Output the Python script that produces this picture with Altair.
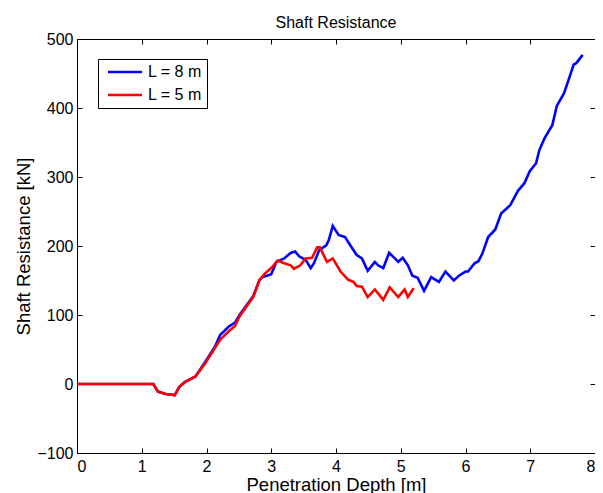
import altair as alt
import pandas as pd

series_names = ["L = 8 m", "L = 5 m"]
colors = ["#0000FF", "#FF0000"]

# L = 8 m
depth_8 = [0, 1.18, 1.25, 1.37, 1.51, 1.58, 1.67, 1.83, 1.98, 2.13, 2.21, 2.34, 2.44, 2.51,
           2.72, 2.82, 2.87, 3.0, 3.08, 3.20, 3.30, 3.37, 3.43, 3.53, 3.61, 3.66, 3.74, 3.85,
           3.89, 3.95, 4.04, 4.14, 4.22, 4.32, 4.40, 4.49, 4.60, 4.65, 4.73, 4.82, 4.91, 4.96,
           5.03, 5.11, 5.18, 5.26, 5.36, 5.47, 5.59, 5.69, 5.82, 5.90, 6.0, 6.04, 6.14, 6.20,
           6.26, 6.35, 6.46, 6.55, 6.69, 6.81, 6.91, 6.99, 7.09, 7.14, 7.22, 7.34, 7.41, 7.52,
           7.60, 7.67, 7.71, 7.81]
res_8 = [0, 0, -11, -14.5, -16, -4, 3, 11, 32, 54, 71, 83, 89, 100,
         127, 151, 155, 159, 177, 182, 190, 192, 185, 180, 168, 175, 194, 201,
         209, 229, 216, 213, 201, 187, 182, 164, 177, 172, 168, 190, 182, 177,
         183, 172, 157, 154, 135, 155, 148, 163, 150, 157, 163, 163, 175, 178,
         189, 213, 224, 247, 259, 280, 291, 308, 320, 339, 356, 375, 403, 421,
         443, 463, 465, 477]

# L = 5 m
depth_5 = [0, 1.18, 1.25, 1.37, 1.51, 1.58, 1.67, 1.83, 1.98, 2.13, 2.21, 2.34, 2.44, 2.51,
           2.72, 2.82, 2.90, 3.0, 3.10, 3.20, 3.30, 3.35, 3.45, 3.53, 3.63, 3.71, 3.75, 3.86,
           3.95, 4.07, 4.19, 4.27, 4.32, 4.40, 4.49, 4.60, 4.73, 4.83, 4.96, 5.06, 5.11, 5.20]
res_5 = [0, 0, -11, -14.5, -16, -4, 3, 11, 30, 52, 64, 76, 84, 98,
         126, 151, 160, 168, 179, 175, 172, 167, 172, 182, 183, 198, 198, 177,
         182, 163, 151, 148, 142, 141, 126, 137, 122, 140, 126, 137, 126, 139]

x_ticks = [0, 1, 2, 3, 4, 5, 6, 7, 8]
y_ticks = [-100, 0, 100, 200, 300, 400, 500]

df = pd.concat([
    pd.DataFrame({"depth": depth_8, "res": res_8, "series": series_names[0], "k": 0}),
    pd.DataFrame({"depth": depth_5, "res": res_5, "series": series_names[1], "k": 1}),
])

FONT = "Liberation Sans"

xscale = alt.Scale(domain=[0, 8], nice=False, zero=False)
yscale = alt.Scale(domain=[-100, 500], nice=False, zero=False)

lines = alt.Chart(df).mark_line(strokeWidth=2.6).encode(
    x=alt.X("depth:Q", scale=xscale,
            axis=alt.Axis(title="Penetration Depth [m]", values=x_ticks,
                          orient="bottom", offset=-5, tickSize=5, domain=False,
                          labelPadding=5, titlePadding=1)),
    y=alt.Y("res:Q", scale=yscale,
            axis=alt.Axis(title="Shaft Resistance [kN]", values=y_ticks,
                          orient="left", offset=-5, tickSize=5, domain=False,
                          labelPadding=4, titlePadding=3)),
    color=alt.Color("series:N",
                    scale=alt.Scale(domain=series_names, range=colors),
                    legend=alt.Legend(title=None, orient="none", legendX=21, legendY=20,
                                      symbolType="M-3.4,0H3.4", symbolSize=100,
                                      symbolOffset=14, labelOffset=15,
                                      symbolStrokeWidth=2.6, labelFontSize=16,
                                      labelFont=FONT, strokeColor="black",
                                      fillColor="white", padding=5, rowPadding=7,
                                      labelLimit=200)),
    order="k:Q",
)

frame = alt.Chart(df).mark_line(opacity=0).encode(
    x=alt.X("depth:Q", scale=xscale,
            axis=alt.Axis(title=None, labels=False, values=x_ticks,
                          orient="top", offset=-5, tickSize=5, domain=False)),
    y=alt.Y("res:Q", scale=yscale,
            axis=alt.Axis(title=None, labels=False, values=y_ticks,
                          orient="right", offset=-5, tickSize=5, domain=False)),
    detail="series:N",
)

chart = alt.layer(lines, frame).resolve_axis(x="independent", y="independent").properties(
    width=518, height=414,
    title=alt.TitleParams("Shaft Resistance", fontSize=16, font=FONT, fontWeight="normal",
                          offset=0),
    autosize=alt.AutoSizeParams(type="none"),
    padding={"left": 69, "top": 31, "right": 0, "bottom": 40},
).configure_view(stroke="black", strokeWidth=1).configure_axis(
    labelFont=FONT, titleFont=FONT, labelFontSize=16, titleFontSize=18.5,
    titleFontWeight="normal", tickColor="black", labelColor="black", titleColor="black",
    grid=False,
)

chart.save("out.html", embed_options={"renderer": "svg", "actions": False})
